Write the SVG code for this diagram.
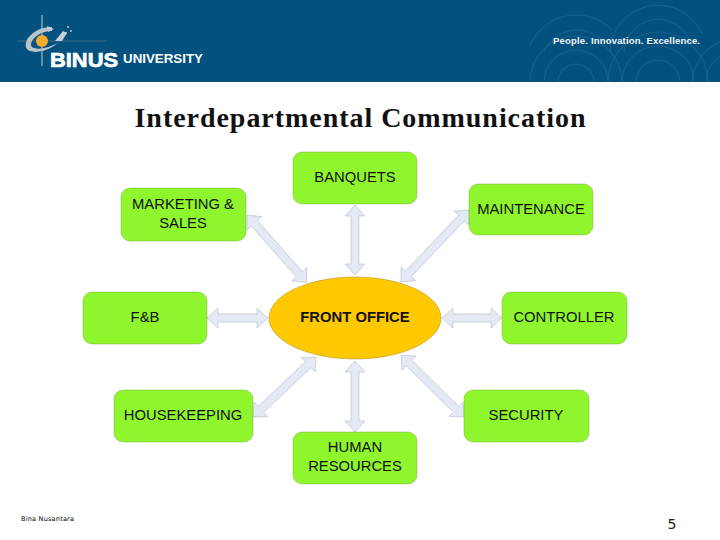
<svg xmlns="http://www.w3.org/2000/svg" width="720" height="540" viewBox="0 0 720 540">
<style>
text{font-family:"Liberation Sans",Arial,sans-serif;fill:#111}
.n{fill:#8ff52d;stroke:#6f9f3a;stroke-width:.4}
.l{font-size:14.8px;text-anchor:middle}
.a{fill:#e4e9f4;stroke:#aab2c0;stroke-width:.5}
.w{fill:none;stroke:#3a7aa2;stroke-width:1;opacity:.4}
</style>
<rect width="720" height="82" fill="#03517f"/>
<g id="header-pattern">
<path class="w" d="M608 82A50 50 0 0 1 708 82M622 82A36 36 0 0 1 694 82M636 82A22 22 0 0 1 680 82M530 82A46 46 0 0 1 622 82M544 82A32 32 0 0 1 608 82M558 82A18 18 0 0 1 594 82M692 82A46 46 0 0 1 720 42M706 82A32 32 0 0 1 720 56M610 52A48 48 0 0 1 702 34M624 52A34 34 0 0 1 690 42M530 46A50 50 0 0 1 612 30M544 52A36 36 0 0 1 604 42"/>
</g>
<g id="logo">
<path d="M42 15V66" stroke="#aab6c0" stroke-width="1.2" fill="none"/>
<path d="M17 41H107" stroke="#3f6a88" stroke-width="1" fill="none"/>
<path d="M52 27C36 27 24 38 26 47C28 55 46 53 58 43C50 47 38 51 32 47C28 42 38 31 52 31Z" fill="#b9c3cb"/>
<path d="M47 26L54 29L48 32ZM55 41L63 31L67 33L62 41Z" fill="#c5ced6"/>
<circle cx="42" cy="41" r="6" fill="#f6ab2e"/>
<circle cx="68" cy="27" r="1" fill="#c5ced6"/><circle cx="71" cy="31" r=".9" fill="#c5ced6"/><circle cx="66" cy="33" r="1" fill="#c5ced6"/>
<text x="50" y="67" font-size="21" font-weight="700" stroke="#fff" stroke-width=".7" style="fill:#fff" textLength="68" lengthAdjust="spacingAndGlyphs">BINUS</text>
<text x="123" y="63" font-size="12.5" font-weight="700" style="fill:#fff" textLength="80" lengthAdjust="spacingAndGlyphs">UNIVERSITY</text>
</g>
<text x="553" y="44" font-size="9.5" font-weight="700" style="fill:#f4f7f9" textLength="147" lengthAdjust="spacing">People. Innovation. Excellence.</text>
<text x="360" y="127" font-size="28" font-weight="700" text-anchor="middle" textLength="451" lengthAdjust="spacing" style="font-family:'Liberation Serif',serif;fill:#111">Interdepartmental Communication</text>
<g id="connectors">
<g class="a" id="c-top"><path d="M355 205L365 216H359V264H365L355 275L345 264H351V216H345Z"/></g>
<g class="a" id="c-bottom"><path d="M355 361L365 372H359V421H365L355 432L345 421H351V372H345Z"/></g>
<g class="a" id="c-left"><path d="M207 318L218 308V314H257V308L268 318L257 328V322H218V328Z"/></g>
<g class="a" id="c-right"><path d="M442 318L453 308V314H491V308L502 318L491 328V322H453V328Z"/></g>
<g class="a" id="c-ul" transform="translate(247 215) rotate(48.6)"><path d="M0 0L11 -10V-4H79V-10L90 0L79 10V4H11V10Z"/></g>
<g class="a" id="c-ur" transform="translate(469 210) rotate(133.5)"><path d="M0 0L11 -10V-4H88V-10L99 0L88 10V4H11V10Z"/></g>
<g class="a" id="c-ll" transform="translate(253 417) rotate(-43.5)"><path d="M0 0L11 -10V-4H76V-10L87 0L76 10V4H11V10Z"/></g>
<g class="a" id="c-lr" transform="translate(464 417) rotate(-135.5)"><path d="M0 0L11 -10V-4H77V-10L88 0L77 10V4H11V10Z"/></g>
</g>
<g id="banquets"><rect class="n" x="293" y="152" width="124" height="52" rx="9"/><text class="l" x="355" y="182">BANQUETS</text></g>
<g id="marketing"><rect class="n" x="121" y="188" width="125" height="53" rx="9"/><text class="l" x="183" y="209">MARKETING &amp;</text><text class="l" x="183" y="228">SALES</text></g>
<g id="maintenance"><rect class="n" x="469" y="184" width="124" height="51" rx="9"/><text class="l" x="531" y="214">MAINTENANCE</text></g>
<g id="fb"><rect class="n" x="83" y="292" width="124" height="52" rx="9"/><text class="l" x="145" y="322">F&amp;B</text></g>
<g id="controller"><rect class="n" x="502" y="292" width="125" height="52" rx="9"/><text class="l" x="564" y="322">CONTROLLER</text></g>
<g id="housekeeping"><rect class="n" x="114" y="390" width="139" height="52" rx="9"/><text class="l" x="183" y="420">HOUSEKEEPING</text></g>
<g id="security"><rect class="n" x="464" y="390" width="125" height="52" rx="9"/><text class="l" x="526" y="420">SECURITY</text></g>
<g id="hr"><rect class="n" x="293" y="432" width="124" height="52" rx="9"/><text class="l" x="355" y="452">HUMAN</text><text class="l" x="355" y="471">RESOURCES</text></g>
<g id="front-office"><ellipse cx="355" cy="318" rx="86" ry="41" fill="#ffc800" stroke="#8a7410" stroke-width=".4"/><text class="l" x="355" y="322" font-weight="700">FRONT OFFICE</text></g>
<text x="21" y="521" font-size="6.5" textLength="53" style="font-family:'DejaVu Sans',sans-serif;fill:#000">Bina Nusantara</text>
<text x="672" y="529" font-size="14" text-anchor="middle" style="font-family:'DejaVu Sans',sans-serif;fill:#222">5</text>
</svg>
